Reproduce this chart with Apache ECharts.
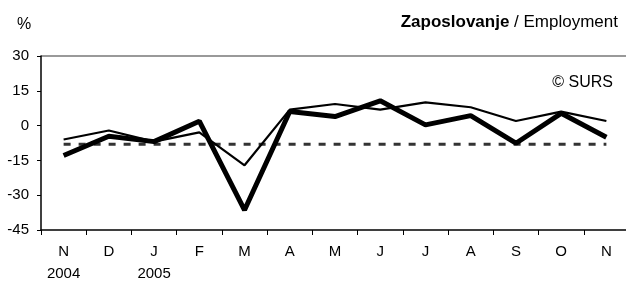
<!DOCTYPE html>
<html><head><meta charset="utf-8">
<script src="https://cdn.jsdelivr.net/npm/echarts@6/dist/echarts.min.js"></script>
<style>html,body{margin:0;padding:0;background:#fff;}#c{width:626px;height:282px;}</style>
</head><body><div id="c"></div>
<script>
var months = ['N','D','J','F','M','A','M','J','J','A','S','O','N'];
var years = ['2004','','2005','','','','','','','','','',''];
var thickSeries = [-12.9,-4.6,-6.9,1.9,-36.4,6.1,3.9,10.7,0.3,4.3,-7.6,5.3,-5.0];
var thinSeries = [-6.0,-2.1,-6.9,-2.9,-17.1,6.9,9.3,6.9,10.0,7.9,2.0,6.0,2.0];
var avgSeries = [-8,-8,-8,-8,-8,-8,-8,-8,-8,-8,-8,-8,-8];
var yTicks = {min:-45, max:30, interval:15};

var font = 'Liberation Sans, Arial, sans-serif';
var chart = echarts.init(document.getElementById('c'), null, {renderer:'canvas'});
var cats = months.map(function(m,i){ return years[i] ? m + '\n' + years[i] : m; });
chart.setOption({
  animation:false,
  backgroundColor:'#fff',
  textStyle:{fontFamily:font},
  title:[{
    text:'{b|Zaposlovanje} / Employment',
    right:3, top:9,
    textStyle:{fontFamily:font,fontSize:17,fontWeight:'normal',color:'#000',
      rich:{b:{fontFamily:font,fontSize:17,fontWeight:'bold',color:'#000'}}}
  },{
    text:'%', left:12, top:12,
    textStyle:{fontFamily:font,fontSize:16,fontWeight:'normal',color:'#000'}
  },{
    text:'© SURS', right:8, top:70,
    textStyle:{fontFamily:font,fontSize:16,fontWeight:'normal',color:'#000'}
  }],
  grid:{left:41, top:56, width:588, height:174, containLabel:false, outerBoundsMode:'none'},
  xAxis:{
    type:'category', data:cats, boundaryGap:true,
    axisLine:{show:true,onZero:false,lineStyle:{color:'#000',width:1.5}},
    axisTick:{show:true,length:5,lineStyle:{color:'#000'}},
    axisLabel:{color:'#000',fontFamily:font,fontSize:15,margin:11,lineHeight:22,verticalAlign:'top'},
    splitLine:{show:false}
  },
  yAxis:{
    type:'value', min:yTicks.min, max:yTicks.max, interval:yTicks.interval,
    axisLine:{show:true,lineStyle:{color:'#000',width:1.5}},
    axisTick:{show:true,length:4,lineStyle:{color:'#000'}},
    axisLabel:{color:'#000',fontFamily:font,fontSize:15,margin:12},
    splitLine:{show:true,lineStyle:{color:['transparent','transparent','transparent','transparent','transparent','#777'],width:1.5}}
  },
  series:[{
    type:'line', data:avgSeries, symbol:'none', z:1,
    lineStyle:{color:'#333',width:3,type:[7,8]}
  },{
    type:'line', data:thinSeries, symbol:'none', z:2,
    lineStyle:{color:'#000',width:2.2}
  },{
    type:'line', data:thickSeries, symbol:'none', z:3,
    lineStyle:{color:'#000',width:5}
  }]
});
</script></body></html>
